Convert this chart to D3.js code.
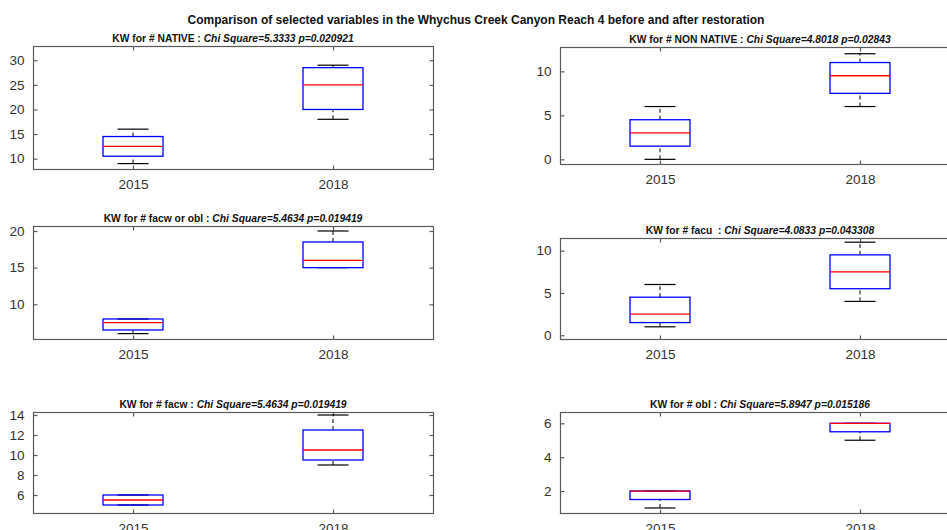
<!DOCTYPE html>
<html>
<head>
<meta charset="utf-8">
<script src="https://cdn.jsdelivr.net/npm/d3@7"></script>
<style>
  html, body { margin: 0; padding: 0; background: #fff; overflow: hidden; }
  svg { display: block; font-family: "Liberation Sans", Arial, sans-serif; }
</style>
</head>
<body>
<svg id="chart" width="947" height="530"></svg>
<script>
// ---------- data ----------
const years = ["2015", "2018"];
const mainTitle = "Comparison of selected variables in the Whychus Creek Canyon Reach 4 before and after restoration";
const panelLabels = ["KW for # NATIVE : ", "KW for # NON NATIVE : ", "KW for # facw or obl : ", "KW for # facu  : ", "KW for # facw : ", "KW for # obl : "];
const panelStats = ["Chi Square=5.3333 p=0.020921", "Chi Square=4.8018 p=0.02843", "Chi Square=5.4634 p=0.019419", "Chi Square=4.0833 p=0.043308", "Chi Square=5.4634 p=0.019419", "Chi Square=5.8947 p=0.015186"];
// box stats per year: [lower whisker, q1, median, q3, upper whisker]
const nativeBox    = [[9, 10.5, 12.5, 14.5, 16], [18, 20, 25, 28.5, 29]];
const nonNativeBox = [[0, 1.5, 3, 4.5, 6], [6, 7.5, 9.5, 11, 12]];
const facwOblBox   = [[6, 6.5, 7.5, 8, 8], [15, 15, 16, 18.5, 20]];
const facuBox      = [[1, 1.5, 2.5, 4.5, 6], [4, 5.5, 7.5, 9.5, 11]];
const facwBox      = [[5, 5, 5.5, 6, 6], [9, 9.5, 10.5, 12.5, 14]];
const oblBox       = [[1, 1.5, 2, 2, 2], [5, 5.5, 6, 6, 6]];
const nativeTicks    = [10, 15, 20, 25, 30];
const nonNativeTicks = [0, 5, 10];
const facwOblTicks   = [10, 15, 20];
const facuTicks      = [0, 5, 10];
const facwTicks      = [6, 8, 10, 12, 14];
const oblTicks       = [2, 4, 6];
const nativeRange    = [7.9, 32.9];
const nonNativeRange = [-0.53, 12.8];
const facwOblRange   = [5.27, 20.68];
const facuRange      = [-0.44, 11.53];
const facwRange      = [4.17, 14.33];
const oblRange       = [0.72, 6.65];

// ---------- layout ----------
const boxes = [nativeBox, nonNativeBox, facwOblBox, facuBox, facwBox, oblBox];
const ticks = [nativeTicks, nonNativeTicks, facwOblTicks, facuTicks, facwTicks, oblTicks];
const ranges = [nativeRange, nonNativeRange, facwOblRange, facuRange, facwRange, oblRange];
const frames = [
  {x0: 33,  x1: 433, y0: 46,    y1: 169},
  {x0: 560, x1: 960, y0: 46.7,  y1: 164},
  {x0: 33,  x1: 433, y0: 226,   y1: 339},
  {x0: 560, x1: 960, y0: 237.7, y1: 339},
  {x0: 33,  x1: 433, y0: 411.7, y1: 513.3},
  {x0: 560, x1: 960, y0: 412.3, y1: 512.7}
];
const axisColor = "#5a5a5a";
const textColor = "#333333";
const svg = d3.select("#chart");

svg.append("text")
  .attr("x", 476).attr("y", 23.5)
  .attr("text-anchor", "middle")
  .attr("font-size", 12).attr("font-weight", "bold")
  .attr("fill", "#111")
  .text(mainTitle);

frames.forEach((f, i) => {
  const g = svg.append("g");
  const x = d3.scalePoint().domain(years).range([f.x0, f.x1]).padding(0.5);
  const y = d3.scaleLinear().domain(ranges[i]).range([f.y1, f.y0]);
  const step = x.step();
  const bw = step * 0.3, cw = step * 0.15;

  // axes frame
  g.append("rect")
    .attr("x", f.x0 + 0.5).attr("y", Math.round(f.y0) + 0.5)
    .attr("width", f.x1 - f.x0).attr("height", Math.round(f.y1) - Math.round(f.y0))
    .attr("fill", "none").attr("stroke", axisColor).attr("stroke-width", 1.2);

  // y axis (left) and right ticks
  const yAxis = d3.axisLeft(y).tickValues(ticks[i]).tickSize(-4).tickPadding(9).tickFormat(d3.format("d"));
  const ya = g.append("g").attr("transform", `translate(${f.x0 + 0.5},0)`).call(yAxis);
  ya.select(".domain").remove();
  ya.selectAll("line").attr("stroke", axisColor).attr("stroke-width", 1.2);
  ya.selectAll("text").attr("font-size", 13.5).attr("fill", textColor).attr("font-family", "Liberation Sans, Arial, sans-serif");
  const yr = g.append("g").attr("transform", `translate(${f.x1 + 0.5},0)`).call(d3.axisRight(y).tickValues(ticks[i]).tickSize(-4).tickFormat(""));
  yr.select(".domain").remove();
  yr.selectAll("line").attr("stroke", axisColor).attr("stroke-width", 1.2);

  // x axis bottom and top ticks
  const xb = g.append("g").attr("transform", `translate(0,${Math.round(f.y1) + 0.5})`)
    .call(d3.axisBottom(x).tickSize(-4).tickPadding(10));
  xb.select(".domain").remove();
  xb.selectAll("line").attr("stroke", axisColor).attr("stroke-width", 1.2);
  xb.selectAll("text").attr("font-size", 13.5).attr("fill", textColor).attr("font-family", "Liberation Sans, Arial, sans-serif");
  const xt = g.append("g").attr("transform", `translate(0,${Math.round(f.y0) + 0.5})`)
    .call(d3.axisTop(x).tickSize(-4).tickFormat(""));
  xt.select(".domain").remove();
  xt.selectAll("line").attr("stroke", axisColor).attr("stroke-width", 1.2);

  // subtitle
  const t = g.append("text")
    .attr("x", (f.x0 + f.x1) / 2).attr("y", f.y0 - 4)
    .attr("text-anchor", "middle")
    .attr("font-size", 10.3).attr("font-weight", "bold").attr("fill", "#111")
    .attr("xml:space", "preserve").style("white-space", "pre");
  t.append("tspan").text(panelLabels[i]);
  t.append("tspan").attr("font-style", "italic").text(panelStats[i]);

  // boxes
  years.forEach((yr, j) => {
    const s = boxes[i][j];
    const cx = x(yr);
    // whiskers
    g.append("line").attr("x1", cx).attr("x2", cx).attr("y1", y(s[0])).attr("y2", y(s[1]))
      .attr("stroke", "#000").attr("stroke-dasharray", "4,3");
    g.append("line").attr("x1", cx).attr("x2", cx).attr("y1", y(s[3])).attr("y2", y(s[4]))
      .attr("stroke", "#000").attr("stroke-dasharray", "4,3");
    // caps
    [s[0], s[4]].forEach(v => {
      g.append("line").attr("x1", cx - cw / 2 - 0.5).attr("x2", cx + cw / 2 + 0.5)
        .attr("y1", y(v)).attr("y2", y(v)).attr("stroke", "#000").attr("stroke-width", 1.2);
    });
    // box
    g.append("rect").attr("x", cx - bw / 2).attr("y", y(s[3]))
      .attr("width", bw).attr("height", y(s[1]) - y(s[3]))
      .attr("fill", "none").attr("stroke", "#0000ff").attr("stroke-width", 1.3);
    // median
    g.append("line").attr("x1", cx - bw / 2).attr("x2", cx + bw / 2)
      .attr("y1", y(s[2])).attr("y2", y(s[2])).attr("stroke", "#ff0000").attr("stroke-width", 1.3);
  });
});
</script>
</body>
</html>
